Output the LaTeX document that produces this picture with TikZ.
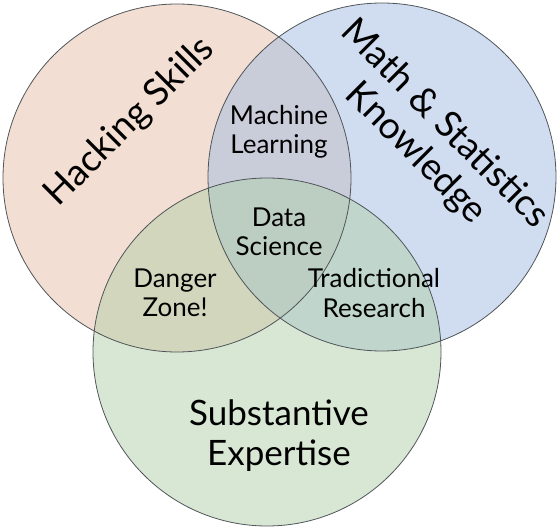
\documentclass[tikz,border=0pt]{standalone}
\usepackage{fontspec}
\setmainfont{Lato}
\begin{document}
\begin{tikzpicture}[x=1pt,y=-1pt]
  % base colours of the three sets, laid down at half opacity
  \definecolor{hackfill}{RGB}{229,189,165}
  \definecolor{mathfill}{RGB}{161,187,225}
  \definecolor{subsfill}{RGB}{177,207,169}
  \definecolor{rimgray}{RGB}{80,85,90}
  \tikzset{
    setfill/.style={fill opacity=0.5},
    rim/.style={draw=rimgray, line width=0.8pt},
    biglabel/.style={font=\fontsize{35}{40}\selectfont, align=center, inner sep=0pt},
    tiltlabel/.style={font=\fontsize{37}{41}\selectfont, align=center, inner sep=0pt},
    smalllabel/.style={font=\fontsize{26}{29.5}\selectfont, align=center, inner sep=0pt}
  }
  \useasboundingbox (0,0) rectangle (558,529);

  % set centres
  \coordinate (hc) at (177,178);
  \coordinate (mc) at (382,177);
  \coordinate (sc) at (267,352);

  % translucent discs
  \fill[hackfill, setfill] (hc) circle (174pt);
  \fill[mathfill, setfill] (mc) circle (174pt);
  \fill[subsfill, setfill] (sc) circle (174pt);

  % outlines
  \draw[rim] (hc) circle (174pt);
  \draw[rim] (mc) circle (174pt);
  \draw[rim] (sc) circle (174pt);

  % set names
  \node[tiltlabel, rotate=45] (hack) at (130,122) {Hacking Skills};
  \node[tiltlabel, rotate=-45] (math) at (430,139) {Math \& Statistics\\Knowledge};
  \node[biglabel] (subs) at (279,436) {Substantive\\Expertise};

  % overlap names
  \node[smalllabel] (ml) at (279,132) {Machine\\Learning};
  \node[smalllabel] (ds) at (279,232) {Data\\Science};
  \node[smalllabel] (dz) at (175,293) {Danger\\Zone!};
  \node[smalllabel] (tr) at (374,293) {Tradictional\\Research};
\end{tikzpicture}
\end{document}
